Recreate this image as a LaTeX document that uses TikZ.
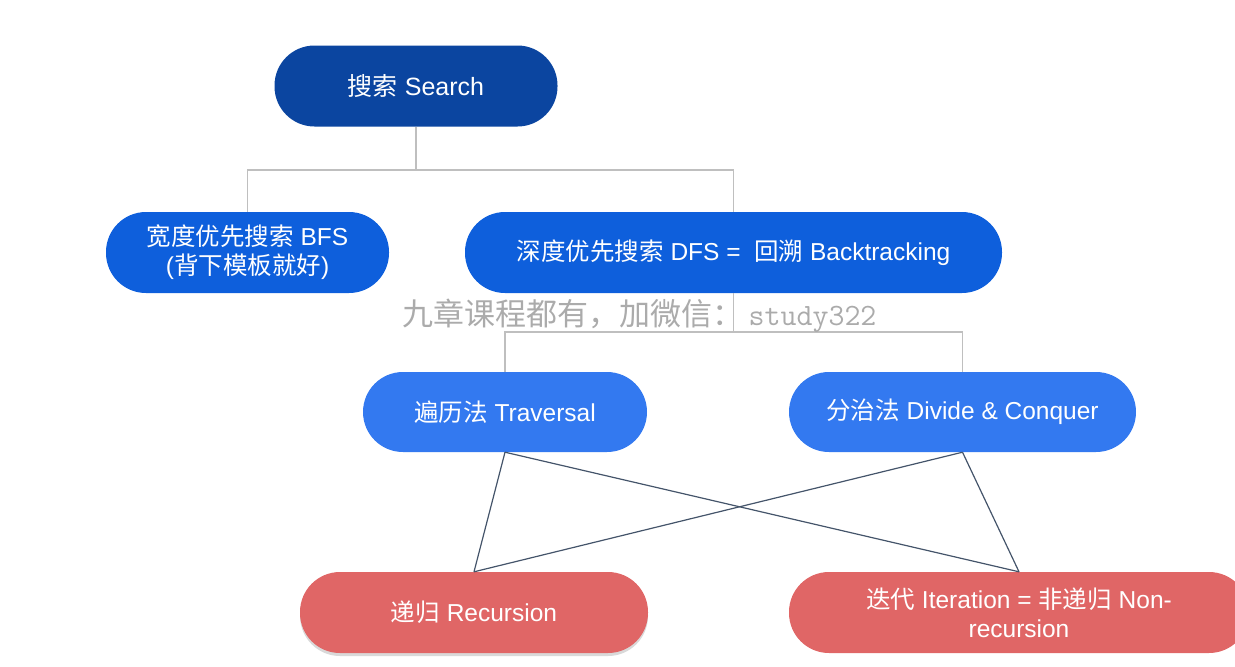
\documentclass[tikz,border=0pt]{standalone}
\usepackage{fontspec}
\setmainfont{Liberation Sans}
\newfontfamily\cjk{Noto Sans CJK SC}
\usetikzlibrary{shadows}
\definecolor{cTop}{HTML}{0B45A0}
\definecolor{cMid}{HTML}{0E5FDC}
\definecolor{cLow}{HTML}{3379F0}
\definecolor{cRed}{HTML}{E06666}
\definecolor{cGrayLine}{HTML}{BFBFBF}
\definecolor{cDark}{HTML}{44546A}
\definecolor{cMark}{HTML}{ABABAB}
\tikzset{
  pill/.style={rounded corners=40pt, minimum height=81pt, inner sep=0pt, text=white, align=center, font=\fontsize{24.5}{29}\selectfont},
  treeline/.style={draw=cGrayLine, line width=1.3pt},
  crossline/.style={draw=cDark, line width=1.2pt},
}
\begin{document}
\begin{tikzpicture}[x=1pt,y=-1pt]
\useasboundingbox (0,0) rectangle (1235,667);
\node[pill, fill=cTop, minimum width=283pt, font=\fontsize{25}{29}\selectfont] (search) at (416,86) {{\cjk 搜索} Search};
\node[pill, fill=cMid, minimum width=283pt] (bfs) at (247.5,252.5) {{\cjk 宽度优先搜索} BFS\\({\cjk 背下模板就好})};
\node[pill, fill=cMid, minimum width=537pt] (dfs) at (733.5,252.5) {{\cjk 深度优先搜索} DFS =\ \ {\cjk 回溯} Backtracking};
\node[pill, fill=cLow, minimum width=284pt, minimum height=80pt] (trav) at (505,412) {{\cjk 遍历法} Traversal};
\node[pill, fill=cLow, minimum width=347pt, minimum height=80pt] (dc) at (962.5,412) {{\cjk 分治法} Divide \& Conquer};
\node[pill, fill=cRed, minimum width=348pt, drop shadow={shadow xshift=0pt, shadow yshift=-3pt, fill=black, opacity=0.15}] (rec) at (474,612.5) {{\cjk 递归} Recursion};
\node[pill, fill=cRed, minimum width=460pt] (iter) at (1019,612.5) {{\cjk 迭代} Iteration = {\cjk 非递归} Non-\\recursion};
% tree connectors
\coordinate (j1) at (416,170);
\coordinate (j2) at (733.5,332);
\draw[treeline] (search.south) -- (j1);
\draw[treeline] (bfs.north) |- (j1) -| (dfs.north);
\draw[treeline] (dfs.south) -- (j2);
\draw[treeline] (trav.north) |- (j2) -| (dc.north);
% crossing connectors
\draw[crossline] (trav.south) -- (rec.north);
\draw[crossline] (trav.south) -- (iter.north);
\draw[crossline] (dc.south) -- (rec.north);
\draw[crossline] (dc.south) -- (iter.north);
% watermark
\node[text=cMark, inner sep=0pt, font=\fontsize{31}{34}\selectfont] (mark) at (639.5,316) {{\cjk 九章课程都有，加微信：}\,{\ttfamily study322}};
\end{tikzpicture}
\end{document}
